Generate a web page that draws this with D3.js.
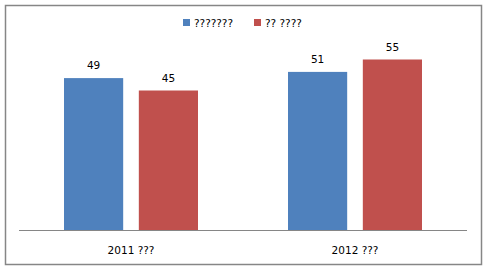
<!DOCTYPE html>
<html>
<head>
<meta charset="utf-8">
<script src="https://cdn.jsdelivr.net/npm/d3@7"></script>
<style>
  body { margin: 0; background: #fff; }
  text { font-family: "DejaVu Sans", sans-serif; font-size: 10.5px; fill: #000; }
</style>
</head>
<body>
<div id="chart"></div>
<script>
let svgWidth = 487;
let svgHeight = 270;

// Data
let categories = ["2011 ???", "2012 ???"];
let seriesNames = ["???????", "?? ????"];
let seriesA = [49, 51];
let seriesB = [45, 55];
let colors = ["#4f81bd", "#c0504d"];

let svg = d3.select("#chart").append("svg")
  .attr("width", svgWidth)
  .attr("height", svgHeight);

// Outer frame
svg.append("rect")
  .attr("x", 5.5).attr("y", 5.5)
  .attr("width", 476).attr("height", 259)
  .attr("fill", "#fff")
  .attr("stroke", "#868686")
  .attr("stroke-width", 1.5);

let plotLeft = 19, plotRight = 467, plotTop = 44, plotBottom = 230;

let x0 = d3.scaleBand()
  .domain(categories)
  .range([plotLeft, plotRight]);

let x1 = d3.scaleBand()
  .domain(seriesNames)
  .range([45, 179])
  .paddingInner(14 / 67);

let y = d3.scaleLinear()
  .domain([0, 60])
  .range([plotBottom, plotTop]);

let rows = categories.map((c, i) => ({
  cat: c,
  vals: [
    { name: seriesNames[0], v: seriesA[i], color: colors[0] },
    { name: seriesNames[1], v: seriesB[i], color: colors[1] }
  ]
}));

let groups = svg.selectAll("g.cat")
  .data(rows)
  .enter().append("g")
  .attr("class", "cat")
  .attr("transform", d => `translate(${x0(d.cat)},0)`);

groups.selectAll("rect")
  .data(d => d.vals)
  .enter().append("rect")
  .attr("x", d => x1(d.name))
  .attr("y", d => y(d.v))
  .attr("width", x1.bandwidth())
  .attr("height", d => y(0) - y(d.v))
  .attr("fill", d => d.color);

groups.selectAll("text.val")
  .data(d => d.vals)
  .enter().append("text")
  .attr("class", "val")
  .attr("x", d => x1(d.name) + x1.bandwidth() / 2)
  .attr("y", d => y(d.v) - 9)
  .attr("text-anchor", "middle")
  .text(d => d.v);

// x axis line
svg.append("line")
  .attr("x1", plotLeft).attr("x2", plotRight)
  .attr("y1", plotBottom + 0.5).attr("y2", plotBottom + 0.5)
  .attr("stroke", "#868686");

svg.selectAll("text.cat")
  .data(categories)
  .enter().append("text")
  .attr("class", "cat")
  .attr("x", d => x0(d) + x0.bandwidth() / 2)
  .attr("y", 254)
  .attr("text-anchor", "middle")
  .text(d => d);

// Legend
let legendX = [183, 254];
let legend = svg.selectAll("g.legend")
  .data(seriesNames)
  .enter().append("g")
  .attr("class", "legend")
  .attr("transform", (d, i) => `translate(${legendX[i]},19)`);

legend.append("rect")
  .attr("width", 7).attr("height", 7)
  .attr("fill", (d, i) => colors[i]);

legend.append("text")
  .attr("x", 11).attr("y", 8)
  .text(d => d);
</script>
</body>
</html>
